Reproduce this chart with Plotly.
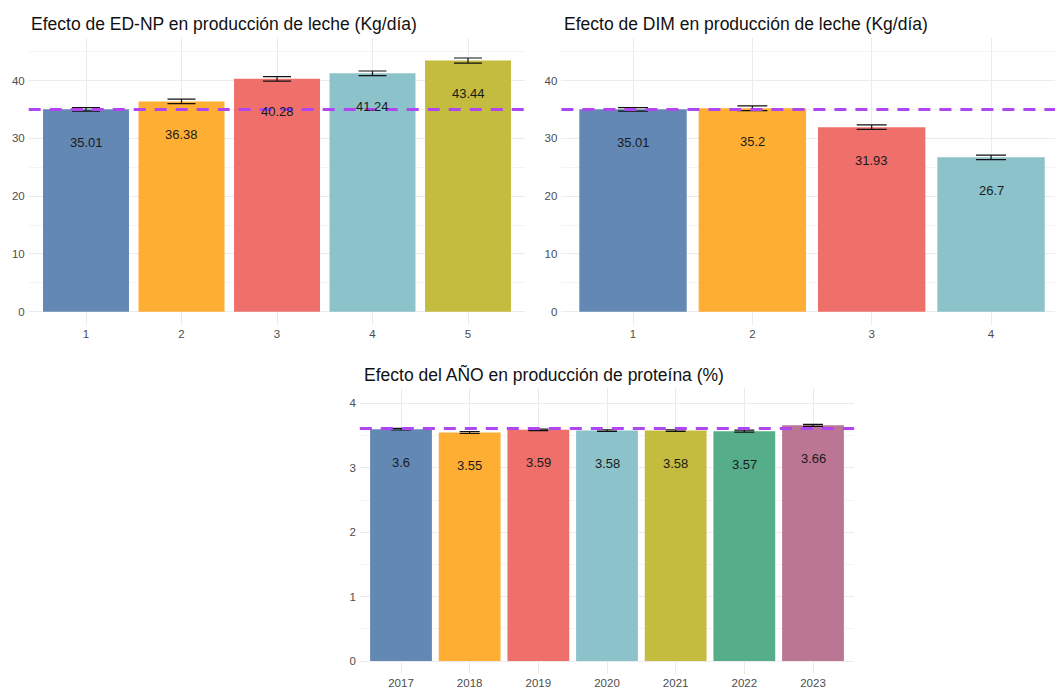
import plotly.graph_objects as go

# ---------------- data ----------------
ednp_cats = ["1", "2", "3", "4", "5"]
ednp_vals = [35.01, 36.38, 40.28, 41.24, 43.44]
ednp_err = [0.3, 0.4, 0.4, 0.4, 0.45]

dim_cats = ["1", "2", "3", "4"]
dim_vals = [35.01, 35.2, 31.93, 26.7]
dim_err = [0.3, 0.4, 0.4, 0.4]

year_cats = ["2017", "2018", "2019", "2020", "2021", "2022", "2023"]
year_vals = [3.60, 3.55, 3.59, 3.58, 3.58, 3.57, 3.66]
year_err = [0.012, 0.015, 0.012, 0.012, 0.012, 0.015, 0.015]

milk_mean = 35.0
prot_mean = 3.61

titles = [
    "Efecto de ED-NP en producción de leche (Kg/día)",
    "Efecto de DIM en producción de leche (Kg/día)",
    "Efecto del AÑO en producción de proteína (%)",
]

palette = ["#6388b4", "#ffae34", "#ef6f6a", "#8cc2ca", "#c3bc3f", "#55ad89", "#bb7693"]

W, H = 1055, 688


def px_x(p):
    return p / W


def px_y(p):
    return 1 - p / H


FONT = "Liberation Sans, Arial, sans-serif"

fig = go.Figure()

panels = [
    dict(cats=ednp_cats, vals=ednp_vals, err=ednp_err, xa="x", ya="y",
         xdom=(28.7, 525.3), ydom=(38, 325), yrange=(-2.3, 47.35), xrange=(-0.6, 4.6),
         mean=milk_mean, cap=14, dtick=10, minor=5, title_x=29, title_y=24),
    dict(cats=dim_cats, vals=dim_vals, err=dim_err, xa="x2", ya="y2",
         xdom=(561.4, 1055), ydom=(38, 325), yrange=(-2.3, 47.35), xrange=(-0.6, 3.536),
         mean=milk_mean, cap=15, dtick=10, minor=5, title_x=562, title_y=24),
    dict(cats=year_cats, vals=year_vals, err=year_err, xa="x3", ya="y3",
         xdom=(359.8, 854.2), ydom=(388, 674), yrange=(-0.2, 4.24), xrange=(-0.6, 6.6),
         mean=prot_mean, cap=10, dtick=1, minor=0.5, title_x=362, title_y=374),
]

for i, p in enumerate(panels):
    n = len(p["cats"])
    fig.add_trace(go.Bar(
        x=p["cats"], y=p["vals"], xaxis=p["xa"], yaxis=p["ya"],
        marker=dict(color=palette[:n], line=dict(width=0)),
        width=0.9,
        error_y=dict(type="data", array=p["err"], visible=True,
                     color="#111111", thickness=1.2, width=p["cap"]),
        showlegend=False, hoverinfo="skip",
    ))
    # value labels (category index positions)
    for j, v in enumerate(p["vals"]):
        fig.add_annotation(x=j, y=v, xref=p["xa"], yref=p["ya"],
                           text=f"{v:g}", showarrow=False, yshift=-33,
                           font=dict(family=FONT, size=13, color="#1a1a1a"))
    # dashed mean line
    fig.add_shape(type="line", xref=f"{p['xa']} domain", yref=p["ya"],
                  x0=0.0, x1=1, y0=p["mean"], y1=p["mean"],
                  line=dict(color="#b045f2", width=3, dash="12px,9px"), layer="above")
    # title
    fig.add_annotation(x=px_x(p["title_x"]), y=px_y(p["title_y"]), xref="paper", yref="paper",
                       xanchor="left", yanchor="middle", text=titles[i], showarrow=False,
                       font=dict(family=FONT, size=17.5, color="#111111"))
    sfx = "" if i == 0 else str(i + 1)
    fig.layout["xaxis" + sfx] = dict(
        domain=[px_x(p["xdom"][0]), px_x(p["xdom"][1])],
        anchor="y" + sfx, range=list(p["xrange"]), type="category",
        showgrid=True, gridcolor="#ebebeb", gridwidth=1,
        zeroline=False, showline=False, ticks="",
        tickfont=dict(family=FONT, size=11.5, color="#4d4d4d"),
        fixedrange=True,
    )
    fig.layout["yaxis" + sfx] = dict(
        domain=[px_y(p["ydom"][1]), px_y(p["ydom"][0])],
        anchor="x" + sfx, range=list(p["yrange"]), dtick=p["dtick"], tick0=0,
        showgrid=True, gridcolor="#ebebeb", gridwidth=1,
        minor=dict(showgrid=True, dtick=p["minor"], tick0=0, gridcolor="#f4f4f4", gridwidth=0.6),
        zeroline=False, showline=False, ticks="",
        ticklabelstandoff=3,
        tickfont=dict(family=FONT, size=11.5, color="#4d4d4d"),
        fixedrange=True,
    )

fig.update_layout(
    width=W, height=H,
    margin=dict(l=0, r=0, t=0, b=0),
    paper_bgcolor="white", plot_bgcolor="white",
    bargap=0.1,
    showlegend=False,
)

fig.write_html("out.html", config={"displayModeBar": False})
